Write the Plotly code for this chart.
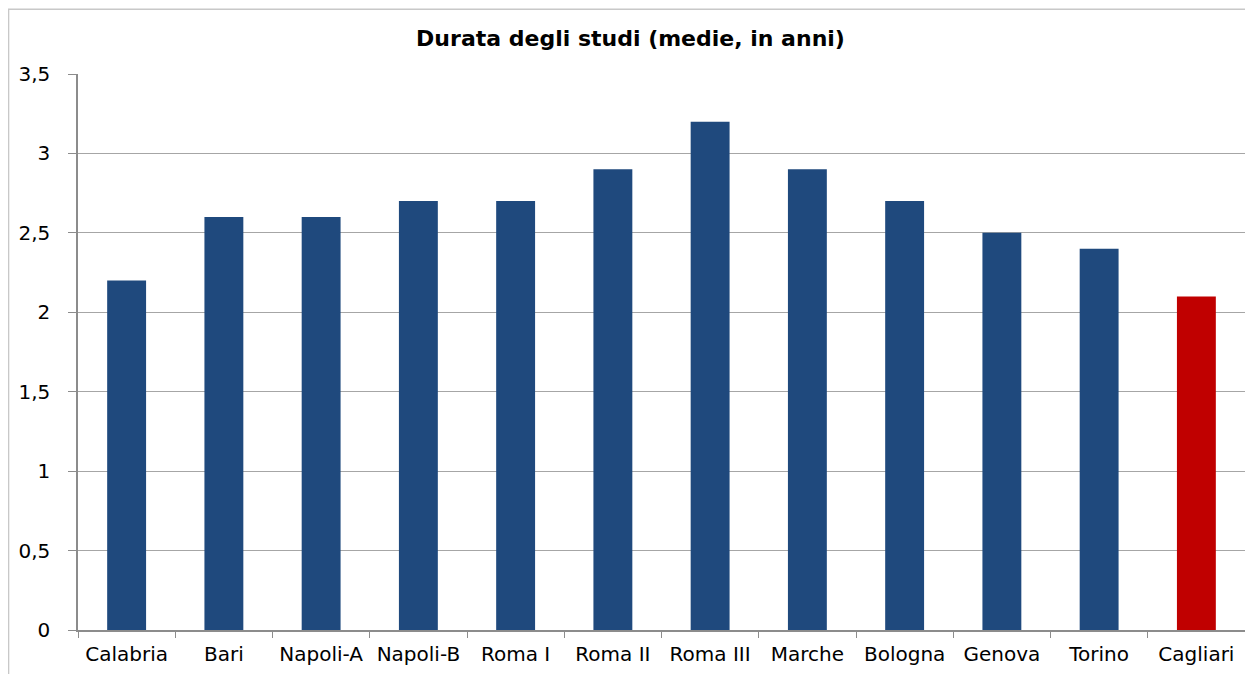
import plotly.graph_objects as go

categories = ["Calabria", "Bari", "Napoli-A", "Napoli-B", "Roma I", "Roma II",
              "Roma III", "Marche", "Bologna", "Genova", "Torino", "Cagliari"]
durata = [2.2, 2.6, 2.6, 2.7, 2.7, 2.9, 3.2, 2.9, 2.7, 2.5, 2.4, 2.1]

colors = ["#1F497D"] * (len(categories) - 1) + ["#C00000"]

fig = go.Figure(go.Bar(x=categories, y=durata, marker=dict(color=colors, line=dict(width=0))))

axis_font = dict(family="DejaVu Sans", size=20, color="#000000")

# page body has an 8px margin, so the figure is sized/offset to compensate
fig.update_layout(
    width=1245, height=666,
    margin=dict(l=70, r=8, t=66, b=42),
    paper_bgcolor="white", plot_bgcolor="white",
    separators=",.",
    bargap=0.6,
    showlegend=False,
    title=dict(text="<b>Durata degli studi (medie, in anni)</b>",
               x=0.5, xanchor="center", y=0.955, yanchor="middle",
               font=dict(family="DejaVu Sans", size=22, color="#000000")),
    shapes=[dict(type="rect", xref="paper", yref="paper",
                 x0=-0.0595, x1=1.05, y0=-0.2, y1=1.1165,
                 line=dict(color="#C8C8C8", width=1.5), layer="below")],
)

fig.update_xaxes(
    type="category", tickfont=axis_font,
    showline=True, linecolor="#8C8C8C", linewidth=1.5,
    ticks="outside", tickson="boundaries", ticklen=6, tickcolor="#8C8C8C",
    ticklabelstandoff=5,
    showgrid=False,
)
fig.update_yaxes(
    range=[0, 3.5], dtick=0.5, tickfont=axis_font,
    showline=True, linecolor="#8C8C8C", linewidth=1.5,
    ticks="outside", ticklen=8, tickcolor="#8C8C8C",
    ticklabelstandoff=14,
    showgrid=True, gridcolor="#A6A6A6", gridwidth=1,
    zeroline=False,
)

fig.write_html("out.html")
